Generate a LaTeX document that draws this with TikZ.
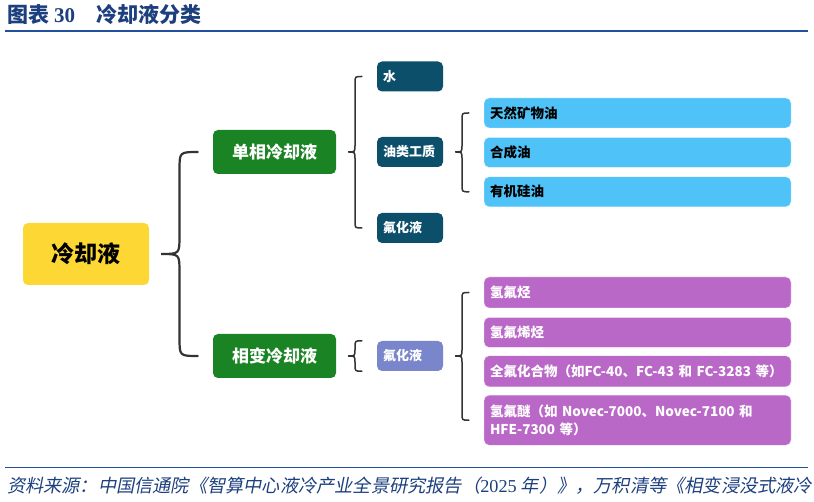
\documentclass[tikz,border=0pt]{standalone}
\usepackage{fontspec}
\setmainfont{Noto Sans CJK SC}
\newfontfamily\numfont{Liberation Serif}
\newfontfamily\slantfont[FakeSlant=0.2]{Noto Sans CJK SC}
\usetikzlibrary{positioning, calc}
\definecolor{titleblue}{HTML}{1C3F7E}
\definecolor{ruleblue}{HTML}{22509C}
\definecolor{rootyellow}{HTML}{FDD835}
\definecolor{phasegreen}{HTML}{1A8424}
\definecolor{deepteal}{HTML}{0C4F6B}
\definecolor{skyblue}{HTML}{4FC3F7}
\definecolor{lavender}{HTML}{7986CB}
\definecolor{orchid}{HTML}{BA68C8}
\definecolor{bracegrey}{HTML}{333333}
\tikzset{
  rootbox/.style={fill=rootyellow, rounded corners=5pt, minimum width=126pt, minimum height=62pt,
    font=\fontsize{23}{23}\selectfont\bfseries},
  phasebox/.style={fill=phasegreen, text=white, rounded corners=5pt, minimum width=123pt, minimum height=44pt,
    font=\fontsize{17}{17}\selectfont\bfseries},
  kindbox/.style={fill=#1, text=white, rounded corners=5pt, minimum width=66pt, minimum height=30pt,
    text width=54pt, inner xsep=6pt, align=left, font=\fontsize{13}{13}\selectfont\bfseries},
  leafbox/.style={fill=#1, draw=white!85!#1, rounded corners=5pt, minimum width=307pt, minimum height=30pt,
    text width=295pt, inner xsep=6pt, align=left, font=\fontsize{13.5}{18}\selectfont\bfseries},
  bracestyle/.style={draw=bracegrey, line width=1.5pt, line cap=round},
}
% curly brace from a parent node to the first and last child
\newcommand{\curlybrace}[4][1.5pt]{%
  \draw[bracestyle, line width=#1] let \p1=(#2), \p2=(#3), \p3=(#4),
    \n1={\x1+12pt}, \n2={\x2-15pt}, \n3={(\n1+\n2)/2}, \n4={(\n2-\n1)/2} in
    (\n2,\y2) .. controls (\n3,\y2) .. ({\n3},{\y2-\n4}) -- ({\n3},{\y1+\n4})
    .. controls (\n3,\y1) .. (\n1,\y1) .. controls (\n3,\y1) .. ({\n3},{\y1-\n4})
    -- ({\n3},{\y3+\n4}) .. controls (\n3,\y3) .. (\n2,\y3);
}
\begin{document}
\begin{tikzpicture}[x=1pt, y=-1pt]
  \useasboundingbox (0,0) rectangle (814,502);
  % header and footer
  \node[anchor=west, text=titleblue, font=\fontsize{21}{21}\selectfont\bfseries, inner sep=0pt] (title) at (7,15)
    {图表 {\numfont\bfseries 30}\quad 冷却液分类};
  \draw[ruleblue, line width=2pt] (5,31) -- (808,31);
  \draw[ruleblue, line width=1pt] (5,467) -- (808,467);
  \node[anchor=west, text=titleblue, font=\fontsize{18.2}{18}\selectfont\slantfont, inner sep=0pt] (source) at (7,486)
    {资料来源：中国信通院《智算中心液冷产业全景研究报告（{\numfont 2025} 年）》，万积清等《相变浸没式液冷};
  % tree
  \node[rootbox] (root) at (86,254) {冷却液};
  \node[phasebox] (single) at (274.5,152) {单相冷却液};
  \node[phasebox] (phase) at (274.5,356) {相变冷却液};
  \node[kindbox=deepteal] (water) at (410,76.5) {水};
  \node[kindbox=deepteal] (oil) at (410,152) {油类工质};
  \node[kindbox=deepteal] (fluoA) at (410,228) {氟化液};
  \node[kindbox=lavender] (fluoB) at (410,356) {氟化液};
  \node[leafbox=skyblue] (mineral) at (637.5,113) {天然矿物油};
  \node[leafbox=skyblue, below=9pt of mineral] (synth) {合成油};
  \node[leafbox=skyblue, below=9pt of synth] (silicone) {有机硅油};
  \node[leafbox=orchid, text=white, minimum height=31pt] (hfc) at (637.5,292.5) {氢氟烃};
  \node[leafbox=orchid, text=white, below=9pt of hfc] (hfo) {氢氟烯烃};
  \node[leafbox=orchid, text=white, minimum height=31pt, below=8pt of hfo] (pfc) {全氟化合物（如FC-40、FC-43 和 FC-3283 等）};
  \node[leafbox=orchid, text=white, minimum height=50pt, below=8pt of pfc] (hfe) {氢氟醚（如 Novec-7000、Novec-7100 和\\HFE-7300 等）};
  % braces
  \curlybrace[2.2pt]{root.east}{single.west}{phase.west}
  \curlybrace{single.east}{water.west}{fluoA.west}
  \curlybrace{oil.east}{mineral.west}{silicone.west}
  \curlybrace{phase.east}{fluoB.north west}{fluoB.south west}
  \curlybrace{fluoB.east}{hfc.west}{hfe.west}
\end{tikzpicture}
\end{document}
